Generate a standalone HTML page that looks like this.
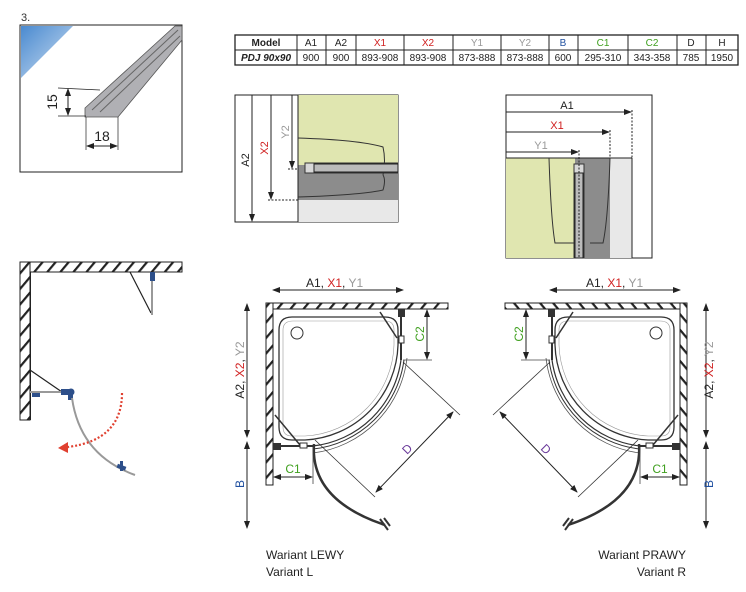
<!DOCTYPE html>
<html><head><meta charset="utf-8"><style>
body{margin:0;background:#fff;width:746px;height:592px;overflow:hidden}
svg{display:block;font-family:"Liberation Sans",sans-serif}
</style></head><body>
<svg width="746" height="592" viewBox="0 0 746 592" xmlns="http://www.w3.org/2000/svg">
<defs>
<pattern id="hat" width="10" height="10" patternUnits="userSpaceOnUse" patternTransform="rotate(40)">
<rect width="10" height="10" fill="#fff"/><rect x="0" y="0" width="2.2" height="10" fill="#222"/></pattern>
<marker id="ar" markerWidth="8" markerHeight="8" refX="7" refY="4" orient="auto" markerUnits="userSpaceOnUse"><path d="M0,1 L8,4 L0,7z" fill="#222"/></marker>
<marker id="al" markerWidth="8" markerHeight="8" refX="1" refY="4" orient="auto" markerUnits="userSpaceOnUse"><path d="M8,1 L0,4 L8,7z" fill="#222"/></marker>
<linearGradient id="bl" x1="0" y1="0" x2="1" y2="1"><stop offset="0" stop-color="#4a8ad0"/><stop offset="1" stop-color="#cfe0f2"/></linearGradient>
</defs>

<!-- top-left profile -->
<text x="21" y="21" font-size="11" fill="#333">3.</text>
<rect x="20" y="25" width="162" height="147" fill="#fff" stroke="#222" stroke-width="1"/>
<path d="M21,26 L73,26 L21,78z" fill="url(#bl)"/>
<path d="M85,108 L175,26 L182,26 L182,40 L118,117 L85,117z" fill="#b0b0b4" stroke="#555" stroke-width="0.8"/>
<path d="M92,110 L178,30 M100,112 L180,36" stroke="#666" stroke-width="1"/>
<path d="M58,88 L100,90 M58,116 L86,116" stroke="#222" stroke-width="0.7"/>
<line x1="68" y1="89" x2="68" y2="115" stroke="#222" marker-start="url(#al)" marker-end="url(#ar)"/>
<text transform="translate(57,102) rotate(-90)" font-size="14" text-anchor="middle" fill="#222">15</text>
<path d="M86,117 L86,150 M118,117 L118,150" stroke="#222" stroke-width="0.7"/>
<line x1="87" y1="146" x2="117" y2="146" stroke="#222" marker-start="url(#al)" marker-end="url(#ar)"/>
<text x="102" y="141" font-size="14" text-anchor="middle" fill="#222">18</text>

<!-- table -->
<g font-size="10" text-anchor="middle" fill="#222">
<rect x="235" y="35" width="503" height="30" fill="#fff" stroke="#222" stroke-width="1.3"/>
<line x1="235" y1="50" x2="738" y2="50" stroke="#222"/>
<g stroke="#222"><line x1="297" y1="35" x2="297" y2="65"/><line x1="326" y1="35" x2="326" y2="65"/><line x1="356" y1="35" x2="356" y2="65"/><line x1="404" y1="35" x2="404" y2="65"/><line x1="453" y1="35" x2="453" y2="65"/><line x1="501" y1="35" x2="501" y2="65"/><line x1="549" y1="35" x2="549" y2="65"/><line x1="578" y1="35" x2="578" y2="65"/><line x1="628" y1="35" x2="628" y2="65"/><line x1="677" y1="35" x2="677" y2="65"/><line x1="706" y1="35" x2="706" y2="65"/></g>
<text x="266" y="46" font-weight="bold">Model</text><text x="311" y="46">A1</text><text x="341" y="46">A2</text>
<text x="380" y="46" fill="#d02020">X1</text><text x="428" y="46" fill="#d02020">X2</text>
<text x="477" y="46" fill="#999">Y1</text><text x="525" y="46" fill="#999">Y2</text>
<text x="563" y="46" fill="#2050a0">B</text><text x="603" y="46" fill="#40a020">C1</text><text x="652" y="46" fill="#40a020">C2</text>
<text x="691" y="46">D</text><text x="722" y="46">H</text>
<text x="266" y="61" font-weight="bold" font-style="italic">PDJ 90x90</text>
<text x="311" y="61">900</text><text x="341" y="61">900</text><text x="380" y="61">893-908</text><text x="428" y="61">893-908</text>
<text x="477" y="61">873-888</text><text x="525" y="61">873-888</text><text x="563" y="61">600</text><text x="603" y="61">295-310</text>
<text x="652" y="61">343-358</text><text x="691" y="61">785</text><text x="722" y="61">1950</text>
</g>

<!-- left elevation -->
<rect x="235" y="95" width="163" height="127" fill="#fff" stroke="#222"/>
<rect x="298" y="95" width="100" height="70" fill="#e0e6b0"/>
<rect x="298" y="165" width="100" height="35" fill="#8c8c8c"/>
<rect x="298" y="200" width="100" height="22" fill="#e8e8e8"/>
<line x1="298" y1="95" x2="298" y2="222" stroke="#222"/>
<path d="M298,138 Q360,140 383,147 Q386,160 383,175" fill="none" stroke="#333"/>
<path d="M298,197 Q360,195 383,190 Q386,180 383,175" fill="none" stroke="#333"/>
<rect x="305" y="163" width="93" height="10" fill="#d8d8d8" stroke="#333"/>
<rect x="314" y="164" width="84" height="8" fill="#bbb" stroke="#222"/>
<g stroke="#222" stroke-dasharray="2,1.5"><line x1="250" y1="222" x2="298" y2="222"/><line x1="268" y1="200" x2="298" y2="200"/><line x1="288" y1="169" x2="298" y2="169"/></g>
<g stroke="#222"><line x1="252" y1="95" x2="252" y2="221" marker-end="url(#ar)"/><line x1="271" y1="95" x2="271" y2="199" marker-end="url(#ar)"/><line x1="292" y1="95" x2="292" y2="168" marker-end="url(#ar)"/></g>
<text transform="translate(249,160) rotate(-90)" font-size="11" text-anchor="middle" fill="#222">A2</text>
<text transform="translate(268,148) rotate(-90)" font-size="11" text-anchor="middle" fill="#d02020">X2</text>
<text transform="translate(289,132) rotate(-90)" font-size="11" text-anchor="middle" fill="#999">Y2</text>

<!-- right elevation -->
<rect x="506" y="95" width="146" height="163" fill="#fff" stroke="#222"/>
<rect x="506" y="158" width="69" height="100" fill="#e0e6b0"/>
<rect x="575" y="158" width="35" height="100" fill="#8c8c8c"/>
<rect x="610" y="158" width="22" height="100" fill="#e8e8e8"/>
<line x1="506" y1="158" x2="632" y2="158" stroke="#222"/>
<line x1="632" y1="158" x2="632" y2="258" stroke="#222"/>
<path d="M549,158 Q551,220 555,243 L575,243" fill="none" stroke="#333"/>
<path d="M610,158 Q608,220 603,243 L590,243" fill="none" stroke="#333"/>
<rect x="574" y="164" width="10" height="94" fill="#d8d8d8" stroke="#333"/>
<rect x="575" y="173" width="8" height="85" fill="#bbb" stroke="#222"/>
<g stroke="#222" stroke-dasharray="2,1.5"><line x1="579" y1="150" x2="579" y2="258"/><line x1="610" y1="130" x2="610" y2="158"/><line x1="632" y1="110" x2="632" y2="158"/></g>
<g stroke="#222"><line x1="506" y1="112" x2="631" y2="112" marker-end="url(#ar)"/><line x1="506" y1="132" x2="609" y2="132" marker-end="url(#ar)"/><line x1="506" y1="152" x2="578" y2="152" marker-end="url(#ar)"/></g>
<text x="567" y="109" font-size="11" text-anchor="middle" fill="#222">A1</text>
<text x="557" y="129" font-size="11" text-anchor="middle" fill="#d02020">X1</text>
<text x="541" y="149" font-size="11" text-anchor="middle" fill="#999">Y1</text>

<!-- small left sketch -->
<rect x="20" y="262" width="162" height="10" fill="url(#hat)" stroke="#222"/>
<rect x="20" y="262" width="10" height="158" fill="url(#hat)" stroke="#222"/>
<rect x="30" y="272" width="1" height="148" fill="#222"/>
<line x1="130" y1="272" x2="151" y2="313" stroke="#222" stroke-width="1.2"/>
<line x1="152" y1="272" x2="152" y2="315" stroke="#999" stroke-width="2"/>
<rect x="150" y="272" width="5" height="9" fill="#2d4f8a"/>
<line x1="30" y1="370" x2="62" y2="392" stroke="#222" stroke-width="1.2"/>
<line x1="30" y1="392" x2="62" y2="392" stroke="#999" stroke-width="2"/>
<rect x="32" y="393" width="8" height="4" fill="#2d4f8a"/>
<rect x="61" y="389" width="9" height="6" fill="#2d4f8a"/><circle cx="71" cy="392" r="3.5" fill="#2d4f8a"/><rect x="68" y="394" width="5" height="6" fill="#2d4f8a"/>
<path d="M72,398 Q80,455 135,475" fill="none" stroke="#999" stroke-width="2"/>
<rect x="117" y="465" width="9" height="4" fill="#2d4f8a" transform="rotate(20,121,467)"/><rect x="120" y="461" width="3" height="10" fill="#2d4f8a"/>
<path d="M122,393 Q122,440 68,447" fill="none" stroke="#e04030" stroke-width="2.2" stroke-dasharray="2,2"/>
<path d="M58,448 L68,442 L68,453z" fill="#e04030"/>

<!-- plan (left variant) -->
<g id="plan">
<rect x="266" y="303" width="182" height="6" fill="url(#hat)" stroke="#222"/>
<rect x="266" y="303" width="7" height="182" fill="url(#hat)" stroke="#222"/>
<path d="M279,330 Q279,317 292,317 L385,317 Q398,317 398,330 L398,345 A98,98 0 0 1 305,440 L292,440 Q279,440 279,427 Z" fill="#fff" stroke="#333" stroke-width="1.3"/>
<path d="M283,330 Q283,321 293,321 L385,321 Q394,321 394,330 L394,345 A94,94 0 0 1 305,436 L292,436 Q283,436 283,427 Z" fill="none" stroke="#999" stroke-width="0.6"/>
<circle cx="297" cy="333" r="6" fill="#fff" stroke="#333"/>
<path d="M401,360 A100,100 0 0 1 313,446" fill="none" stroke="#333" stroke-width="1.2"/>
<path d="M404,360 A103,103 0 0 1 313,449" fill="none" stroke="#333" stroke-width="1"/>
<path d="M407,358 A108,108 0 0 1 313,453" fill="none" stroke="#555" stroke-width="0.8"/>
<line x1="401" y1="309" x2="401" y2="360" stroke="#333" stroke-width="2"/>
<line x1="273" y1="446" x2="314" y2="446" stroke="#333" stroke-width="2"/>
<rect x="398" y="309" width="7" height="8" fill="#333"/><rect x="273" y="443" width="8" height="7" fill="#333"/>
<rect x="399" y="336" width="5" height="7" fill="#fff" stroke="#333"/><rect x="300" y="443" width="7" height="5" fill="#fff" stroke="#333"/>
<path d="M380,312 L397,338 M275,415 L300,445" stroke="#333" stroke-width="1.5"/>
<path d="M314,444 Q310,500 385,525" fill="none" stroke="#333" stroke-width="2.5"/>
<path d="M380,519 L388,530 M384,518 L390,526" stroke="#333" stroke-width="2"/>
<line x1="313" y1="447" x2="313" y2="484" stroke="#444" stroke-width="0.8"/>
<line x1="274" y1="477" x2="312" y2="477" stroke="#222" marker-start="url(#al)" marker-end="url(#ar)"/>
<line x1="403" y1="360" x2="432" y2="360" stroke="#444" stroke-width="0.8"/>
<line x1="427" y1="310" x2="427" y2="359" stroke="#222" marker-start="url(#al)" marker-end="url(#ar)"/>
<line x1="403" y1="362" x2="460" y2="415" stroke="#333" stroke-width="0.8"/>
<line x1="315" y1="440" x2="375" y2="497" stroke="#333" stroke-width="0.8"/>
<line x1="453" y1="412" x2="376" y2="492" stroke="#222" marker-start="url(#al)" marker-end="url(#ar)"/>
<line x1="273" y1="290" x2="403" y2="290" stroke="#222" marker-start="url(#al)" marker-end="url(#ar)"/>
<line x1="247" y1="304" x2="247" y2="437" stroke="#222" marker-start="url(#al)" marker-end="url(#ar)"/>
<line x1="247" y1="442" x2="247" y2="528" stroke="#222" marker-start="url(#al)" marker-end="url(#ar)"/>
</g>
<use href="#plan" transform="translate(953,0) scale(-1,1)"/>

<!-- plan labels -->
<g font-size="12" fill="#222">
<text x="306" y="287">A1, <tspan fill="#d02020">X1</tspan>, <tspan fill="#999">Y1</tspan></text>
<text x="586" y="287">A1, <tspan fill="#d02020">X1</tspan>, <tspan fill="#999">Y1</tspan></text>
<text transform="translate(244,370) rotate(-90)" text-anchor="middle">A2, <tspan fill="#d02020">X2</tspan>, <tspan fill="#999">Y2</tspan></text>
<text transform="translate(713,370) rotate(-90)" text-anchor="middle">A2, <tspan fill="#d02020">X2</tspan>, <tspan fill="#999">Y2</tspan></text>
<text transform="translate(244,484) rotate(-90)" text-anchor="middle" fill="#2050a0">B</text>
<text transform="translate(713,484) rotate(-90)" text-anchor="middle" fill="#2050a0">B</text>
<text x="293" y="473" text-anchor="middle" fill="#40a020">C1</text>
<text x="660" y="473" text-anchor="middle" fill="#40a020">C1</text>
<text transform="translate(424,334) rotate(-90)" text-anchor="middle" fill="#40a020">C2</text>
<text transform="translate(523,334) rotate(-90)" text-anchor="middle" fill="#40a020">C2</text>
<text transform="translate(410,452) rotate(-45)" text-anchor="middle" fill="#6a3a9a">D</text>
<text transform="translate(543,452) rotate(45)" text-anchor="middle" fill="#6a3a9a">D</text>
</g>
<g font-size="12" fill="#222">
<text x="266" y="559">Wariant LEWY</text><text x="266" y="576">Variant L</text>
<text x="686" y="559" text-anchor="end">Wariant PRAWY</text><text x="686" y="576" text-anchor="end">Variant R</text>
</g>
</svg>
</body></html>
